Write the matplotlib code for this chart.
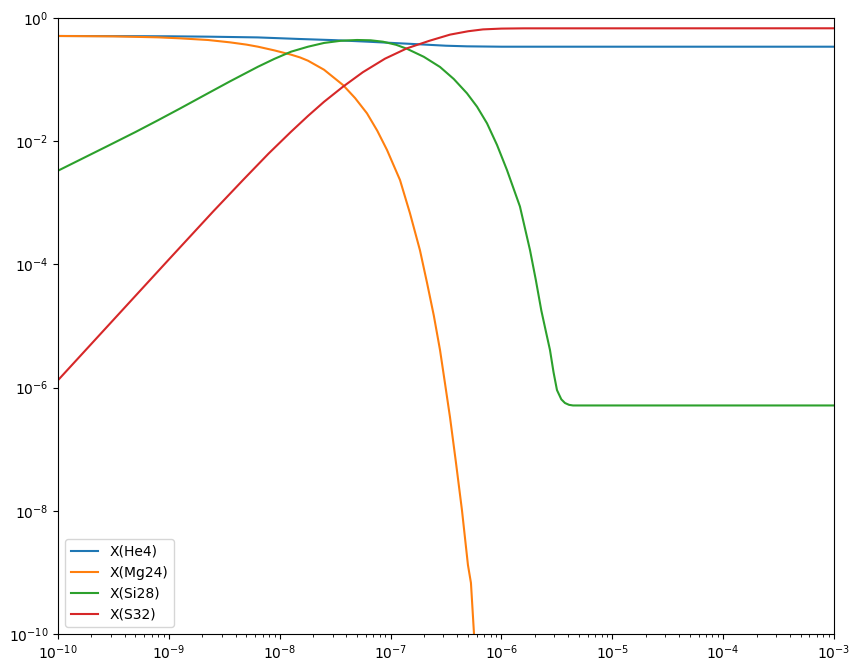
import matplotlib
matplotlib.use('Agg')
import matplotlib.pyplot as plt
import numpy as np

# 図から読み取った値 (log10 t, log10 X)
HE4_LOGT = [-10.0, -9.5, -9.0, -8.647, -8.2, -7.817, -7.5, -7.2, -6.95, -6.762, -6.5, -6.311, -6.0, -5.0, -3.0]
HE4_LOGX = [-0.292, -0.294, -0.297, -0.303, -0.315, -0.341, -0.360, -0.385, -0.408, -0.425, -0.450, -0.460, -0.466, -0.466, -0.466]

MG24_LOGT = [-10.0, -9.5, -9.098, -8.9, -8.647, -8.45, -8.3, -8.196, -8.05, -7.898, -7.817, -7.745, -7.6, -7.429,
             -7.32, -7.213, -7.12, -7.032, -6.915, -6.825, -6.735, -6.671, -6.61, -6.554, -6.51, -6.464,
             -6.41, -6.356, -6.302, -6.275, -6.248, -6.23]
MG24_LOGX = [-0.292, -0.298, -0.314, -0.330, -0.357, -0.395, -0.432, -0.466, -0.525, -0.595, -0.640, -0.693, -0.840, -1.088,
             -1.300, -1.547, -1.830, -2.143, -2.630, -3.170, -3.770, -4.300, -4.830, -5.390, -5.920, -6.480,
             -7.220, -7.990, -8.880, -9.170, -9.980, -11.0]

SI28_LOGT = [-10.0, -9.549, -9.3, -9.098, -8.9, -8.647, -8.45, -8.196, -8.05, -7.898, -7.745, -7.6, -7.45,
             -7.303, -7.18, -7.068, -6.95, -6.852, -6.7, -6.554, -6.43, -6.311, -6.22, -6.13, -6.04, -5.95,
             -5.833, -5.742, -5.69, -5.64, -5.6, -5.562, -5.53, -5.499, -5.46, -5.427, -5.39, -5.354, -5.0, -3.0]
SI28_LOGX = [-2.479, -2.075, -1.850, -1.660, -1.470, -1.222, -1.030, -0.791, -0.665, -0.547, -0.466, -0.405, -0.370,
             -0.357, -0.362, -0.385, -0.435, -0.500, -0.630, -0.795, -0.990, -1.222, -1.440, -1.710, -2.060, -2.468,
             -3.060, -3.770, -4.250, -4.750, -5.080, -5.390, -5.750, -6.040, -6.190, -6.250, -6.280, -6.290, -6.290, -6.290]

S32_LOGT = [-10.0, -9.5, -9.0, -8.6, -8.331, -8.1, -7.9, -7.745, -7.6, -7.429, -7.25, -7.05, -6.852, -6.65,
            -6.464, -6.3, -6.166, -6.0, -5.8, -3.0]
S32_LOGX = [-5.88, -4.90, -3.92, -3.14, -2.63, -2.20, -1.85, -1.59, -1.36, -1.115, -0.88, -0.66, -0.492, -0.37,
            -0.27, -0.215, -0.185, -0.172, -0.168, -0.167]

SERIES = [
    ('X(He4)', HE4_LOGT, HE4_LOGX),
    ('X(Mg24)', MG24_LOGT, MG24_LOGX),
    ('X(Si28)', SI28_LOGT, SI28_LOGX),
    ('X(S32)', S32_LOGT, S32_LOGX),
]

fig = plt.figure(figsize=(8.6, 6.72), dpi=100)
ax = fig.add_axes([58 / 860, 1 - 634 / 672, (834 - 58) / 860, (634 - 18) / 672])

for label, lt, lx in SERIES:
    ax.plot(10.0 ** np.array(lt), 10.0 ** np.array(lx), label=label)

ax.set_xscale('log')
ax.set_yscale('log')
ax.set_xlim(1e-10, 1e-3)
ax.set_ylim(1e-10, 1)
ax.legend(loc='lower left')

fig.savefig('out.png', dpi=100)
